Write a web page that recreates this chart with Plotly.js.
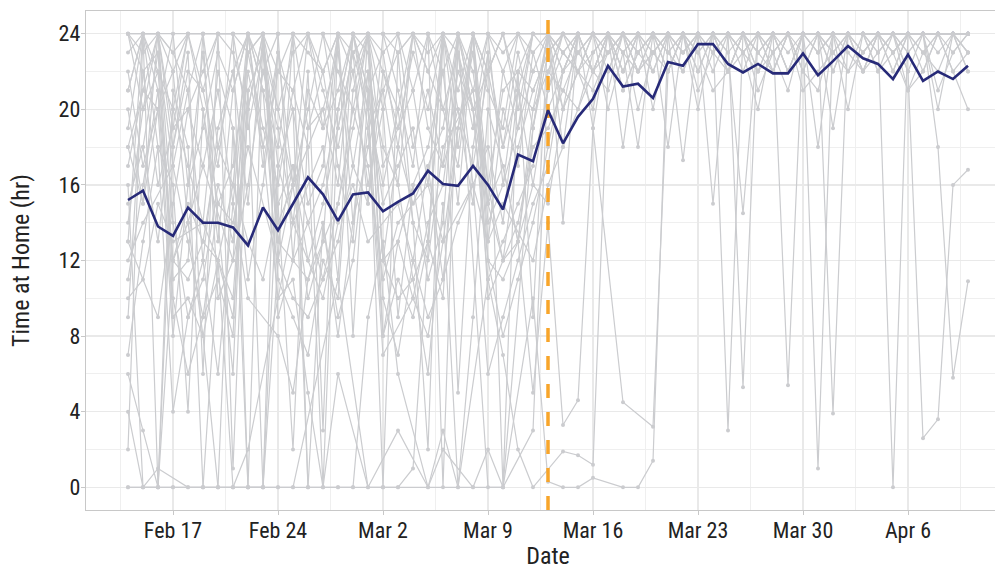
<!DOCTYPE html>
<html>
<head>
<meta charset="utf-8">
<script src="https://cdn.plot.ly/plotly-3.0.1.min.js"></script>
<style>
  html, body { margin: 0; padding: 0; background: #ffffff; overflow: hidden; }
  #chart { width: 1012px; height: 570px; }
</style>
</head>
<body>
<div id="chart"></div>
<script>
const N = null;

// Dates (daily, Feb 14 – Apr 10, 2020)
const dates = [
  '2020-02-14','2020-02-15','2020-02-16','2020-02-17','2020-02-18','2020-02-19','2020-02-20',
  '2020-02-21','2020-02-22','2020-02-23','2020-02-24','2020-02-25','2020-02-26','2020-02-27',
  '2020-02-28','2020-02-29','2020-03-01','2020-03-02','2020-03-03','2020-03-04','2020-03-05',
  '2020-03-06','2020-03-07','2020-03-08','2020-03-09','2020-03-10','2020-03-11','2020-03-12',
  '2020-03-13','2020-03-14','2020-03-15','2020-03-16','2020-03-17','2020-03-18','2020-03-19',
  '2020-03-20','2020-03-21','2020-03-22','2020-03-23','2020-03-24','2020-03-25','2020-03-26',
  '2020-03-27','2020-03-28','2020-03-29','2020-03-30','2020-03-31','2020-04-01','2020-04-02',
  '2020-04-03','2020-04-04','2020-04-05','2020-04-06','2020-04-07','2020-04-08','2020-04-09',
  '2020-04-10'
];

// Mean time at home (hr)
const meanHours = [
  15.2,15.7,13.8,13.3,14.8,14.0,14.0, 13.75,12.8,14.8,13.6,15.0,16.4,15.5,
  14.1,15.5,15.6,14.6,15.1,15.55,16.75, 16.05,15.95,17.0,16.0,14.7,17.6,17.25,
  19.95,18.2,19.6,20.55,22.3,21.2,21.35, 20.6,22.5,22.3,23.45,23.45,22.4,21.95,
  22.4,21.9,21.9,22.95,21.8,22.55,23.35, 22.7,22.4,21.6,22.9,21.5,22.0,21.6,
  22.3
];

const lockdownDate = '2020-03-13';

// Individual participants (hr at home per day)
const p01 = [24,24,24,23,24,24,24, 24,24,22,24,24,24,24, 24,23,24,24,24,24,24, 24,24,24,22,24,24,24,
             24,23,22,24,23,24,24, 22,24,23,24,24,22,24, 23,24,22,24,24,23,24, 22,24,23,24,22,24,23, 24];
const p02 = [14,20,22,12,11,13,12, 10,21,23,13,12,14,11, 15,19,24,12,13,10,14, 16,22,20,11,13,15,17,
             21,23,24,22,23,24,24, 23,24,24,23,24,22,24, 24,24,23,24,24,23,24, 22,24,24,24,23,24,24, 23];
const p03 = [0,0,0,0,0,0,0, 0,0,0,0,0,0,N, 0,0,N,0,0,N,N, N,N,0,2,0,N,19,
             24,23,22,24,24,24,23, 24,24,24,24,24,24,23, 24,24,24,24,24,24,24, 23,24,24,24,24,24,24, 24];
const p04 = [18,21,20,8,16,23,14, 6,24,24,15,2,19,22, 17,13,24,20,9,16,18, 22,15,24,13,20,17,23,
             20,22,24,19,24,23,24, 24,22,24,21,23,24,22, 24,23,21,24,24,22,24, 23,24,22,24,24,21,23, 24];
const p05 = [23,24,18,16,4,20,15, 17,23,24,14,16,18,0, 20,24,21,15,17,19,13, 24,23,16,18,14,21,20,
             24,18,24,24,23,24,24, 24,23,24,24,24,24,24, 22,24,24,24,24,19,24, 24,24,24,23,24,24,24, 22];
const p06 = [21,24,24,19,20,22,24, 24,24,21,18,24,23,22, 24,24,19,21,23,24,22, 24,24,20,22,24,21,24,
             24,24,24,24,24,24,22, 24,24,24,24,24,24,24, 23,24,24,24,24,24,24, 24,24,24,24,24,24,24, 24];
const p07 = [11,16,21,9,10,8,12, 9,20,24,12,10,9,11, 13,17,22,10,7,12,9, 11,19,24,10,12,13,16,
             15,20,22,21,23,24,22, 24,24,23,24,24,24,23, 24,24,24,22,24,24,24, 24,23,24,24,24,24,24, 24];
const p08 = [4,0,0,0,N,0,12, 0,0,0,N,24,0,0, 6,N,0,0,0,1,N, 24,24,N,0,0,N,10,
             0.3,0,0,0.5,N,0,0, 1.4,24,24,24,24,23,24, 24,24,24,24,24,24,24, 24,24,24,24,24,24,24, 24];
const p09 = [13,N,9,15,20,17,N, 12,16,22,19,14,N,18, 11,24,N,16,20,14,12, 18,N,21,15,17,13,20,
             22,24,23,24,22,24,20, 23,24,24,22,24,24,23, 20,24,22,24,23,24,24, 22,24,23,24,24,20,24, 24];
const p10 = [24,24,24,24,24,24,24, 24,0,24,24,24,24,24, 24,24,24,24,24,24,24, 0,24,24,24,24,24,24,
             24,24,24,24,24,24,24, 24,24,24,24,24,24,24, 24,24,24,24,24,24,24, 24,24,0,24,24,24,24, 24];
const p11 = [17,21,24,14,9,11,16, 13,22,18,10,14,12,15, 19,23,20,8,13,16,11, 14,24,22,16,12,18,21,
             23,20,24,24,24,23,18, 24,24,22,24,24,24,24, 23,22,24,24,18,24,24, 24,23,24,24,24,24,22, 20];
const p12 = [6,3,0,12,14,8,0, 0,2,N,10,11,5,0, 0,0,9,13,6,N,0, 3,0,N,11,7,2,0,
             N,1.9,1.7,1.2,22,24,24, 24,24,23,24,24,24,24, 24,22,24,24,23,24,24, 24,24,24,24,24,24,24, 24];
const p13 = [20,15,24,18,22,21,17, 24,19,23,20,16,24,21, 18,22,24,17,19,23,20, 24,18,24,16,21,22,24,
             24,22,24,24,24,24,24, 23,24,24,24,24,22,24, 24,24,24,24,23,24,24, 24,24,22,24,24,24,24, 23];
const p14 = [9,22,23,10,6,9,11, 8,24,21,11,9,7,12, 10,21,24,8,11,9,13, 10,23,20,12,8,11,14,
             18,22,23,24,24,21,23, 24,24,24,24,15,24,24, 24,24,24,24,24,24,24, 24,24,23,24,24,24,24, 24];
const p15 = [15,18,13,20,17,14,22, 19,11,16,23,20,15,17, 24,14,18,21,16,24,19, 17,20,15,23,18,21,16,
             21,24,22,20,24,24,23, 24,22,24,23,24,3,24, 24,23,24,24,24,22,24, 24,24,23,24,24,24,24, 24];
const p16 = [19,24,21,12,15,13,18, 16,24,24,13,17,14,16, 20,24,23,12,18,15,17, 19,24,24,14,16,19,22,
             24,24,24,22,24,24,24, 24,24,24,24,24,24,5.3, 24,24,24,24,24,24,24, 24,24,24,24,23,24,24, 24];
const p17 = [0,0,1,N,0,0,0, 0,0,0,0,0,N,N, 11,N,0,N,3,N,0, 2,N,0,N,0,N,3,
             22,24,N,24,24,24,24, 24,24,24,24,24,24,24, 24,24,24,24,1,24,24, 24,24,24,24,24,24,24, 24];
const p18 = [22,17,20,24,16,19,23, 21,24,17,22,24,19,20, 16,24,21,23,18,24,22, 20,17,24,21,19,24,23,
             24,24,23,24,24,24,24, 24,24,23,24,24,24,24, 24,24,22,24,24,3.9,24, 24,24,24,24,24,24,24, 24];
const p19 = [12,14,N,17,13,9,15, 14,18,N,12,16,10,13, 15,20,17,11,14,N,16, 13,19,23,15,12,14,18,
             19,21,20,23,24,22,24, 24,23,24,24,24,24,23, 24,24,5.4,24,24,24,24, 23,24,24,24,24,24,24, 24];
const p20 = [24,20,24,23,21,24,18, 22,24,24,20,23,24,19, 21,24,24,22,20,24,23, 24,21,24,22,24,20,24,
             24,23,24,24,24,22,24, 24,24,24,24,23,24,24, 24,24,24,22,24,24,24, 24,24,24,22,2.6,3.6,16, 16.8];
const p21 = [7,13,18,4,9,12,6, 15,10,N,8,5,11,14, 9,12,19,7,N,10,8, 13,N,16,6,9,12,15,
             17,22,24,24,20,23,24, 24,24,24,24,22,24,24, 24,24,24,24,24,24,24, 24,24,24,24,24,18,5.8, 10.9];
const p22 = [21,24,22,20,24,21,24, 23,20,24,22,21,24,24, 22,20,24,23,24,21,24, 22,24,21,24,23,24,22,
             22,21,23,22,24,23,22, 23,22,24,23,21,22,23, 22,23,24,21,22,23,22, 24,22,23,21,22,24,22, 23];
const p23 = [16,0,0,21,18,0,0, 19,0,0,17,20,0,14, 8,14,22,18,16,11,6, 15,0,9,20,17,13,5,
             14,3.3,4.6,19,N,4.5,N, 3.2,22,24,24,24,24,24, 24,24,24,24,24,24,24, 24,24,24,24,24,24,24, 24];
const p24 = [24,22,16,19,24,20,13, 21,24,18,23,16,20,24, 19,23,15,24,21,17,24, 20,23,19,24,16,22,21,
             23,24,24,24,24,22,24, 24,24,24,24,24,24,24, 24,24,24,24,24,24,24, 24,24,24,23,24,24,24, 24];
const p25 = [10,11,15,13,N,14,12, 16,13,11,15,17,12,10, 14,16,13,N,15,12,17, 11,14,16,13,15,N,12,
             16,18,20,22,21,24,22, 23,24,24,22,24,24,24, 23,24,24,24,24,23,24, 24,24,24,24,24,24,24, 24];
const p26 = [2,24,0,18,23,6,24, 1,21,0,24,12,22,3, 24,8,21,0,23,14,2, 24,5,18,23,0,22,9,
             24,14,24,22,24,18,24, 24,24,24,20,24,24,24, 22,24,24,24,24,24,24, 24,22,24,24,24,24,24, 24];
const p27 = [18,15,20,22,14,17,21, 15,23,19,16,21,18,20, 23,17,15,22,19,21,16, 24,20,17,22,18,23,19,
             23,24,24,24,24,24,24, 20,24,24,24,24,24,24, 24,24,24,24,24,24,24, 24,24,24,24,24,24,24, 24];
const p28 = [13,24,24,11,12,24,10, 12,24,24,9,12,11,13, 24,24,24,12,10,11,13, 24,24,24,12,11,13,19,
             24,20,22,23,24,21,23, 22,24,17.3,24,23,22,24, 21,23,24,22,21,24,23, 22,23,24,21,23,22,24, 22];
const p29 = [N,18,23,17,21,12,19, 22,15,24,17,14,21,19, 24,22,16,20,24,18,21, 17,24,20,15,22,19,24,
             24,22,24,24,24,24,24, 24,18,24,24,24,24,24, 24,24,24,24,24,24,20, 24,24,24,24,24,24,24, 24];
const p30 = [24,23,24,22,24,24,24, 24,23,24,24,24,24,22, 24,24,24,24,23,24,24, 24,24,24,24,22,24,24,
             23,24,24,22,24,24,23, 24,23,22,24,24,23,14.5, 24,22,24,23,24,24,22, 23,24,24,22,24,23,24, 23];

const participants = [p01,p02,p03,p04,p05,p06,p07,p08,p09,p10,p11,p12,p13,p14,p15,
                      p16,p17,p18,p19,p20,p21,p22,p23,p24,p25,p26,p27,p28,p29,p30];

// Axis settings
const yTicks = [0, 4, 8, 12, 16, 20, 24];
const yRange = [-1.2, 25.2];
const xRange = ['2020-02-11 04:48', '2020-04-12 19:12'];

const FONT = "'Liberation Sans Narrow', 'Arial Narrow', 'Roboto Condensed', 'Liberation Sans', sans-serif";
const GRAY = '#cbcccf';

const traces = [];
participants.forEach(function (vals) {
  traces.push({
    x: dates, y: vals, type: 'scatter', mode: 'lines+markers',
    connectgaps: true,
    line: { color: GRAY, width: 1.2 },
    marker: { color: GRAY, size: 4 },
    hoverinfo: 'skip', showlegend: false
  });
});
traces.push({
  x: [lockdownDate, lockdownDate], y: yRange, type: 'scatter', mode: 'lines',
  line: { color: '#f8a52a', width: 3.5, dash: '14px,14px' },
  hoverinfo: 'skip', showlegend: false
});
traces.push({
  x: dates, y: meanHours, type: 'scatter', mode: 'lines',
  line: { color: '#272a78', width: 2.6 },
  hoverinfo: 'skip', showlegend: false
});

const layout = {
  width: 1012, height: 570,
  margin: { l: 86, r: 2, t: 11, b: 60 },
  paper_bgcolor: '#ffffff', plot_bgcolor: '#ffffff',
  font: { family: FONT, size: 22, color: '#222222' },
  showlegend: false,
  xaxis: {
    type: 'date', range: xRange,
    tick0: '2020-02-17', dtick: 7 * 86400000, tickformat: '%b %-d',
    showgrid: true, gridcolor: '#e9e9e9', gridwidth: 1.3,
    minor: { dtick: 3.5 * 86400000, tick0: '2020-02-13 12:00', showgrid: true, gridcolor: '#efefef', gridwidth: 1 },
    showline: true, linecolor: '#c8c8c8', linewidth: 1.3, mirror: true,
    ticks: 'outside', ticklen: 4, tickcolor: '#c8c8c8', tickwidth: 1,
    ticklabelstandoff: -4,
    tickfont: { family: FONT, size: 22, color: '#222222' },
    zeroline: false,
    title: { text: 'Date', font: { family: FONT, size: 24, color: '#222222' }, standoff: 14 }
  },
  yaxis: {
    range: yRange, tickvals: yTicks,
    showgrid: true, gridcolor: '#e9e9e9', gridwidth: 1.3,
    minor: { dtick: 2, tick0: 0, showgrid: true, gridcolor: '#efefef', gridwidth: 1 },
    showline: true, linecolor: '#c8c8c8', linewidth: 1.3, mirror: true,
    ticks: 'outside', ticklen: 4, tickcolor: '#c8c8c8', tickwidth: 1,
    ticklabelstandoff: -4,
    tickfont: { family: FONT, size: 22, color: '#222222' },
    zeroline: false,
    title: { text: 'Time at Home (hr)', font: { family: FONT, size: 24, color: '#222222' }, standoff: 22 }
  }
};

Plotly.newPlot('chart', traces, layout, { staticPlot: true, displayModeBar: false });
</script>
</body>
</html>
